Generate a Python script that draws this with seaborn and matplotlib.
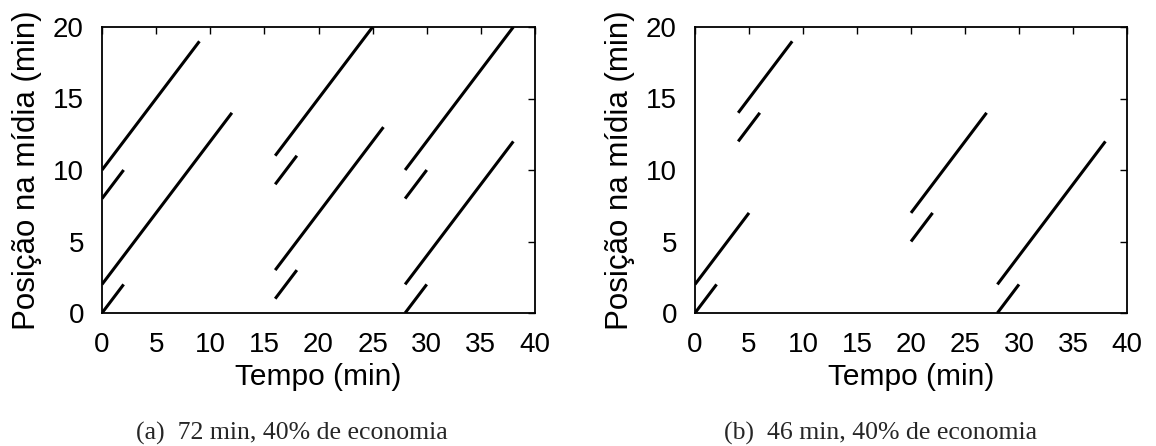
import matplotlib
matplotlib.use("Agg")
import matplotlib.pyplot as plt
import seaborn as sns
import pandas as pd

# Panel (a): segments (start time, start position, end time, end position)
a_t0 = [0, 0, 0, 0, 16, 16, 16, 16, 28, 28, 28, 28]
a_p0 = [10, 8, 2, 0, 11, 9, 3, 1, 10, 8, 2, 0]
a_t1 = [9, 2, 12, 2, 25, 18, 26, 18, 38, 30, 38, 30]
a_p1 = [19, 10, 14, 2, 20, 11, 13, 3, 20, 10, 12, 2]

# Panel (b)
b_t0 = [4, 4, 0, 0, 20, 20, 28, 28]
b_p0 = [14, 12, 2, 0, 7, 5, 2, 0]
b_t1 = [9, 6, 5, 2, 27, 22, 38, 30]
b_p1 = [19, 14, 7, 2, 14, 7, 12, 2]

x_ticks = [0, 5, 10, 15, 20, 25, 30, 35, 40]
y_ticks = [0, 5, 10, 15, 20]
captions = ["(a)  72 min, 40% de economia", "(b)  46 min, 40% de economia"]
xlabel = "Tempo (min)"
ylabel = "Posição na mídia (min)"

sns.set_theme(style="white")
plt.rcParams["font.family"] = ["Liberation Sans", "DejaVu Sans"]


def to_df(t0, p0, t1, p1):
    rows = []
    for i in range(len(t0)):
        rows.append({"seg": i, "t": t0[i], "p": p0[i]})
        rows.append({"seg": i, "t": t1[i], "p": p1[i]})
    return pd.DataFrame(rows)


W, H = 1156, 446
fig = plt.figure(figsize=(W / 100, H / 100), dpi=100)
ax_rects = [
    [102 / W, (H - 313) / H, 433 / W, 286 / H],
    [695 / W, (H - 313) / H, 432 / W, 286 / H],
]
panels = [(a_t0, a_p0, a_t1, a_p1), (b_t0, b_p0, b_t1, b_p1)]
cap_x = [292 / W, 881 / W]

for k, (rect, seg) in enumerate(zip(ax_rects, panels)):
    ax = fig.add_axes(rect)
    df = to_df(*seg)
    sns.lineplot(data=df, x="t", y="p", units="seg", estimator=None,
                 color="black", linewidth=2.2, ax=ax, legend=False,
                 solid_capstyle="butt")
    ax.set_xlim(0, 40)
    ax.set_ylim(0, 20)
    ax.set_xticks(x_ticks)
    ax.set_yticks(y_ticks)
    ax.tick_params(direction="in", length=5, width=1, top=True, right=True,
                   labelsize=20, colors="black")
    ax.tick_params(axis="x", pad=13.5)
    ax.tick_params(axis="y", pad=13)
    for s in ax.spines.values():
        s.set_color("black")
        s.set_linewidth(1.3)
        s.set_visible(True)
    ax.set_xlabel(xlabel, fontsize=21.5, labelpad=4, color="black")
    ax.set_ylabel(ylabel, fontsize=22.5, labelpad=8, color="black")
    fig.text(cap_x[k], (H - 433) / H, captions[k], ha="center", va="center",
             fontsize=18.5, family=["Liberation Serif", "DejaVu Serif"])

fig.savefig("out.png", dpi=100, facecolor="white")
